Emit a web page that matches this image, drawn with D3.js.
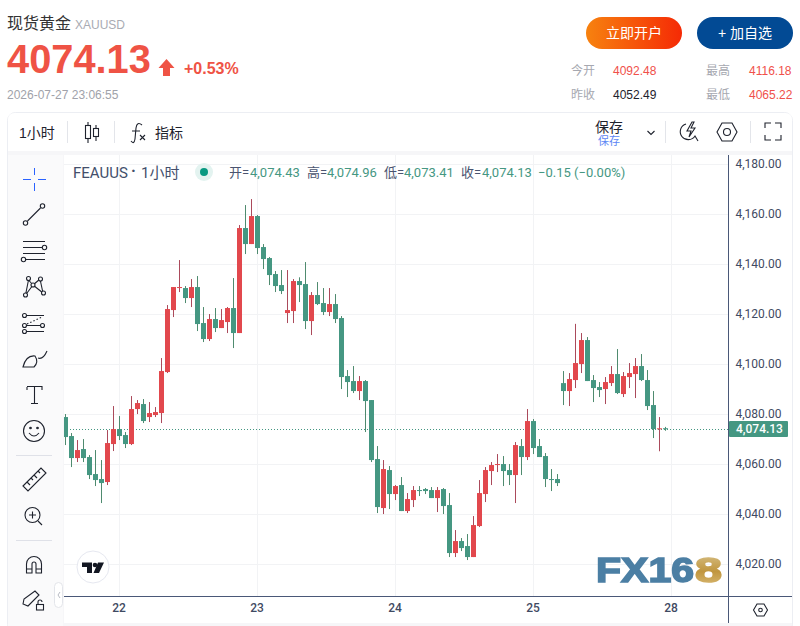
<!DOCTYPE html>
<html lang="zh">
<head>
<meta charset="utf-8">
<title>现货黄金 XAUUSD</title>
<script src="https://cdn.jsdelivr.net/npm/d3@7/dist/d3.min.js"></script>
<style>
  html, body { margin: 0; padding: 0; background: #fff; }
  svg { display: block; }
  text { font-family: "Liberation Sans", "Noto Sans CJK SC", sans-serif; }
  .tv text { font-family: Roboto, "Noto Sans CJK SC", sans-serif; }
  .icon { fill: none; stroke: #1e222d; stroke-width: 1.1; }
</style>
</head>
<body>
<svg id="chart" width="800" height="626"></svg>
<script>
// Hourly gold candles, oldest first.
const opens = [4078.9,4071.3,4062.5,4066.1,4062.9,4056.1,4054.1,4052.9,4068.1,4074.1,4071.7,4068.1,4082.1,4084.1,4078.9,4079.7,4080.5,4096.9,4121.7,4130.5,4130.5,4126.5,4130.9,4116.5,4110.1,4118.1,4114.5,4116.9,4122.5,4112.5,4154.5,4148.1,4159.3,4146.9,4142.5,4136.1,4131.7,4120.5,4121.3,4133.3,4132.1,4117.3,4127.7,4124.5,4120.9,4124.1,4118.5,4095.3,4093.3,4089.3,4093.3,4085.7,4062.1,4042.5,4057.7,4048.1,4051.7,4041.3,4045.7,4049.7,4050.1,4049.7,4046.5,4050.1,4043.7,4024.5,4029.3,4027.3,4022.9,4035.3,4048.1,4057.3,4059.7,4060.1,4057.7,4055.7,4067.3,4062.9,4077.3,4067.3,4063.3,4054.1,4054.1,4092.48,4089.3,4093.7,4100.1,4109.7,4093.7,4090.9,4090.1,4092.5,4096.1,4088.1,4094.9,4096.1,4099.3,4093.7,4083.7,4074.0,4074.43];
const closes = [4070.9,4062.5,4065.7,4062.5,4055.7,4053.7,4052.5,4068.5,4074.1,4071.3,4068.1,4082.1,4084.5,4077.3,4080.5,4080.9,4097.3,4122.1,4130.9,4130.9,4126.5,4130.9,4116.1,4110.1,4118.1,4114.5,4117.7,4122.5,4112.5,4154.5,4148.1,4159.3,4146.5,4142.1,4135.7,4131.3,4129.3,4121.7,4133.3,4131.7,4117.3,4127.7,4124.1,4120.9,4124.1,4118.1,4094.9,4092.9,4089.3,4093.3,4085.3,4061.7,4042.9,4058.1,4048.1,4051.3,4041.3,4046.1,4049.7,4049.3,4049.3,4046.5,4049.7,4043.3,4024.5,4029.3,4026.5,4022.9,4035.7,4048.5,4057.7,4059.7,4060.1,4057.3,4055.7,4067.7,4062.9,4077.3,4066.5,4062.9,4054.1,4053.7,4052.49,4089.3,4094.1,4100.5,4109.7,4093.3,4090.5,4089.7,4092.9,4096.1,4088.5,4095.3,4096.5,4099.3,4093.7,4083.3,4074.1,4074.4,4074.13];
const highs = [4080.1,4072.5,4069.7,4070.1,4063.7,4065.7,4061.7,4073.7,4083.3,4079.3,4072.9,4087.3,4085.7,4086.1,4084.9,4082.9,4102.5,4123.7,4130.9,4141.7,4131.3,4134.1,4135.3,4122.9,4120.1,4122.5,4122.1,4122.9,4134.5,4155.7,4163.7,4166.1,4159.7,4148.1,4142.9,4137.3,4137.7,4137.7,4134.1,4134.8,4140.9,4128.9,4132.9,4130.5,4130.5,4128.1,4119.3,4097.7,4099.3,4095.3,4093.7,4085.7,4067.3,4061.7,4059.3,4051.7,4054.9,4048.5,4051.3,4051.3,4050.5,4050.9,4050.9,4050.5,4048.5,4033.7,4030.5,4032.1,4039.3,4053.7,4058.9,4060.9,4064.1,4063.3,4060.1,4068.9,4070.1,4082.1,4078.1,4070.1,4064.5,4058.1,4056.1,4097.3,4096.5,4116.18,4112.5,4110.9,4095.7,4092.9,4094.9,4099.3,4106.1,4096.9,4100.5,4102.5,4104.1,4097.7,4089.3,4078.9,4074.96];
const lows = [4067.7,4058.9,4060.9,4060.9,4054.1,4051.3,4044.5,4051.7,4065.3,4069.7,4066.5,4067.7,4080.1,4076.5,4076.9,4078.9,4076.5,4096.5,4118.9,4128.9,4124.5,4122.9,4113.3,4108.9,4109.3,4112.9,4114.5,4112.5,4106.5,4112.5,4144.1,4148.1,4144.1,4138.1,4131.7,4128.9,4128.1,4116.5,4116.5,4124.9,4114.1,4111.7,4123.7,4119.7,4119.3,4116.5,4090.1,4086.9,4088.5,4085.7,4072.9,4060.9,4040.5,4040.1,4042.1,4045.7,4041.3,4040.5,4042.9,4047.3,4048.1,4046.5,4040.9,4040.1,4022.9,4022.9,4025.3,4021.7,4022.9,4034.9,4044.9,4051.7,4056.9,4051.3,4051.7,4044.5,4055.7,4061.7,4064.1,4062.9,4050.9,4049.3,4051.3,4083.7,4083.3,4090.5,4096.5,4093.3,4084.9,4086.9,4084.1,4091.3,4088.1,4086.9,4090.5,4086.5,4093.3,4081.7,4070.5,4065.22,4073.41];

// Axis content.
const priceTicks = [4020,4040,4060,4080,4100,4120,4140,4160,4180];
const dayBars = [9,32,55,78,101];
const dayLabels = ["22","23","24","25","28"];
const lastPrice = 4074.13;

// Quote panel content.
const quoteRows = [
  {label:"今开", value:"4092.48", x:571, vx:613, y:75, color:"#f0504a"},
  {label:"最高", value:"4116.18", x:706, vx:749, y:75, color:"#f0504a"},
  {label:"昨收", value:"4052.49", x:571, vx:613, y:99, color:"#1e222d"},
  {label:"最低", value:"4065.22", x:706, vx:749, y:99, color:"#f0504a"}
];
const legendParts = [
  {t:"开=", x:229, c:"#4a5470"}, {t:"4,074.43", x:250, c:"#459782"},
  {t:"高=", x:307, c:"#4a5470"}, {t:"4,074.96", x:327, c:"#459782"},
  {t:"低=", x:384, c:"#4a5470"}, {t:"4,073.41", x:404, c:"#459782"},
  {t:"收=", x:461, c:"#4a5470"}, {t:"4,074.13", x:482, c:"#459782"},
  {t:"−0.15 (−0.00%)", x:538, c:"#459782"}
];

const UP = "#e2484d", DOWN = "#459782", UP_WICK = "#ab4a5b", DOWN_WICK = "#4f8b6f";
const plot = {left:64, right:728.5, top:155, bottom:596};

const svg = d3.select("#chart");
const x = d3.scaleLinear().domain([0,100]).range([65.5,665.5]);
const y = d3.scaleLinear().domain([4020,4180]).range([564.3,164.3]);

const label = (sel, t, px, py, size, fill, extra={}) => {
  const n = sel.append("text").attr("x",px).attr("y",py).attr("font-size",size).attr("fill",fill).text(t);
  Object.entries(extra).forEach(([k,v]) => n.attr(k,v));
  return n;
};

/* ---------- page header ---------- */
const defs = svg.append("defs");
const btn = defs.append("linearGradient").attr("id","openBtn");
btn.append("stop").attr("offset",0).attr("stop-color","#f7820f");
btn.append("stop").attr("offset",1).attr("stop-color","#f52a05");
const gold = defs.append("linearGradient").attr("id","gold").attr("x1",0).attr("x2",0).attr("y1",0).attr("y2",1);
gold.append("stop").attr("offset",0).attr("stop-color","#d9c48e");
gold.append("stop").attr("offset",.55).attr("stop-color","#c0963f");
gold.append("stop").attr("offset",1).attr("stop-color","#dcbd7a");
defs.append("filter").attr("id","soft").append("feGaussianBlur").attr("stdDeviation",.5);
defs.append("clipPath").attr("id","plotClip").append("rect")
  .attr("x",plot.left).attr("y",plot.top).attr("width",plot.right-plot.left).attr("height",plot.bottom-plot.top);

label(svg,"现货黄金",7,29,16,"#333333");
label(svg,"XAUUSD",75,29,12,"#a9abb3");
label(svg,"4074.13",7,73,39.8,"#ef5345",{"font-weight":"bold"});
svg.append("path").attr("d","M166.5 59 L174.5 68 L170 68 L170 76 L163 76 L163 68 L158.5 68 Z").attr("fill","#ef5345");
label(svg,"+0.53%",184,74,16,"#ef5345",{"font-weight":"bold"});
label(svg,"2026-07-27 23:06:55",7,99,12,"#a0a2aa");

svg.append("rect").attr("x",586).attr("y",17).attr("width",96).attr("height",32).attr("rx",16).attr("fill","url(#openBtn)");
label(svg,"立即开户",634,38,14,"#fff",{"text-anchor":"middle"});
svg.append("rect").attr("x",697).attr("y",17).attr("width",96).attr("height",32).attr("rx",16).attr("fill","#024a94");
label(svg,"+ 加自选",745,38,14,"#fff",{"text-anchor":"middle"});

quoteRows.forEach(r => {
  label(svg,r.label,r.x,r.y,12,"#a6a8b0");
  label(svg,r.value,r.vx,r.y,12,r.color);
});

/* ---------- widget frame and toolbars ---------- */
svg.append("rect").attr("x",7.5).attr("y",112.5).attr("width",785).attr("height",520).attr("rx",8)
  .attr("fill","#f6f6f8").attr("stroke","#eceef3");
svg.append("path").attr("d","M8 151 V120 Q8 113 15 113 H785 Q792 113 792 120 V151 Z").attr("fill","#fff");
svg.append("rect").attr("x",8).attr("y",155).attr("width",55).attr("height",471).attr("fill","#fafafb");
svg.append("rect").attr("x",plot.left).attr("y",155).attr("width",728).attr("height",468).attr("fill","#fff");

[67.5,114.5,665.5,750.5].forEach(sx =>
  svg.append("line").attr("x1",sx).attr("x2",sx).attr("y1",121).attr("y2",143).attr("stroke","#e3e5ea"));

label(svg,"1小时",19,138,14,"#1e222d");
label(svg,"指标",155,138,14,"#1e222d");
label(svg,"保存",595,132,14,"#1e222d");
label(svg,"保存",598,145,11,"#5d86f5");

const icon = () => svg.append("g").attr("class","icon");

// candle type, indicators, save menu, alerts, settings, fullscreen
let g = icon();
g.append("path").attr("d","M88 122 V143 M96 125 V141");
g.append("rect").attr("x",85.5).attr("y",125.5).attr("width",5).attr("height",13).attr("fill","#fff");
g.append("rect").attr("x",93.5).attr("y",128.5).attr("width",5).attr("height",8).attr("fill","#fff");
g = icon();
g.append("path").attr("d","M142 125 Q137 121 136 128 L135 139 Q134 145 131 141 M132 131 H140 M140 135 L145 140 M145 135 L140 140");
g = icon();
g.append("path").attr("d","M647.5 131 L651 134.5 L654.5 131");
g = icon();
g.append("path").attr("d","M686 124 A8 8 0 1 0 695 136 L698 141 M692 122 L687 131 H691 L689 137 L695 128 H691 L694 122 Z");
g = icon();
g.append("path").attr("d","M717 132 L722 123 H732 L737 132 L732 141 H722 Z");
g.append("circle").attr("cx",727).attr("cy",132).attr("r",3.5);
g = icon();
g.append("path").attr("d","M765 128 V123 H771 M775 123 H781 V128 M781 135 V140 H775 M771 140 H765 V135");

// drawing tools along the left edge
const cross = svg.append("g").attr("stroke","#2962ff").attr("stroke-width",1).attr("fill","none");
cross.append("path").attr("d","M34.5 168 V175 M34.5 183 V191 M23 179.5 H31 M38 179.5 H46");
g = icon();
g.append("path").attr("d","M27.5 221 L40.5 208");
g.append("circle").attr("cx",25.5).attr("cy",223).attr("r",2.2);
g.append("circle").attr("cx",42.5).attr("cy",206).attr("r",2.2);
g = icon();
g.append("path").attr("d","M23 241.5 H45 M23 247.5 H42 M23 253.5 H45 M25 259.5 H45");
g.append("circle").attr("cx",44.5).attr("cy",247.5).attr("r",2.2);
g.append("circle").attr("cx",23.5).attr("cy",259.5).attr("r",2.2);
g = icon();
g.append("path").attr("d","M28.5 280 L25.5 295 M28.5 280 L33 285 M33 285 L40 279 M33 285 L43 293 M25.5 295 L33 285 M40 279 L43 293");
[[28.5,278.5],[40.5,279],[33,285],[25.5,295],[43.5,293]].forEach(([a,b]) => g.append("circle").attr("cx",a).attr("cy",b).attr("r",2).attr("fill","#fafafb"));
g = icon();
g.append("path").attr("d","M26 315.5 H44 M26 331.5 H44 M26 325.5 H40");
g.append("path").attr("d","M27 324 L42 317").attr("stroke-dasharray","1.5 2");
[[24.5,315.5],[24.5,325.5],[42.5,325.5],[24.5,331.5]].forEach(([a,b]) => g.append("circle").attr("cx",a).attr("cy",b).attr("r",2).attr("fill","#fafafb"));
g = icon();
g.append("path").attr("d","M23 367 Q26 355 35 356 Q39 362 34 367 Z M38 358 Q43 360 47 351");
g = icon();
g.append("path").attr("d","M27 387 V390 M27 386.5 H42 V390 M34.5 387 V403 M31 403.5 H38");
g = icon();
g.append("circle").attr("cx",34).attr("cy",431).attr("r",10.5);
g.append("path").attr("d","M29 433 Q34 439 39 433");
g.append("circle").attr("cx",30.5).attr("cy",428).attr("r",.8).attr("fill","#1e222d");
g.append("circle").attr("cx",37.5).attr("cy",428).attr("r",.8).attr("fill","#1e222d");
[455.5,540.5].forEach(sy =>
  svg.append("line").attr("x1",16).attr("x2",52).attr("y1",sy).attr("y2",sy).attr("stroke","#dfe1e8"));
g = icon();
g.append("path").attr("d","M23 486 L41 468 L46 473 L28 491 Z M27 482 L30 485 M31 478 L33 480 M34 475 L37 478 M38 471 L40 473");
g = icon();
g.append("circle").attr("cx",32.5).attr("cy",515).attr("r",7.5);
g.append("path").attr("d","M38 521 L42 525 M29 515 H36 M32.5 511.5 V518.5");
g = icon();
g.append("path").attr("d","M26.5 573 V564 A7.5 7.5 0 0 1 41.5 564 V573 H36 V564 A2 2 0 0 0 32 564 V573 Z M26.5 569 H32 M36 569 H41.5");
g = icon();
g.append("path").attr("d","M23 604 L24 599 L35 591 L39 595 L28 606 Z");
g.append("rect").attr("x",36.5).attr("y",604.5).attr("width",7).attr("height",5.5);
g.append("path").attr("d","M38 604 V602 A2 2 0 0 1 42 602");
svg.append("rect").attr("x",54.5).attr("y",582.5).attr("width",8).attr("height",25).attr("rx",4).attr("fill","#fff").attr("stroke","#e3e5ea");
svg.append("path").attr("d","M60 592 L58 595 L60 598").attr("fill","none").attr("stroke","#b8bbc4");

/* ---------- price chart ---------- */
const tv = svg.append("g").attr("class","tv");

// grid
const gridY = tv.append("g").attr("stroke","#f2f3f5");
gridY.selectAll("line").data(priceTicks).join("line")
  .attr("x1",plot.left).attr("x2",plot.right)
  .attr("y1",d => Math.round(y(d))+.5).attr("y2",d => Math.round(y(d))+.5);
const gridX = tv.append("g").attr("stroke","#f2f3f5");
gridX.selectAll("line").data(dayBars).join("line")
  .attr("x1",d => Math.floor(x(d))+.5).attr("x2",d => Math.floor(x(d))+.5)
  .attr("y1",plot.top).attr("y2",plot.bottom);

// watermark sits under the candles
const mark = tv.append("g").attr("font-weight","bold").attr("font-size",35).attr("filter","url(#soft)");
mark.append("text").attr("x",596).attr("y",582).attr("textLength",98).attr("lengthAdjust","spacingAndGlyphs")
  .attr("fill","#4c7fa4").attr("stroke","#4c7fa4").attr("stroke-width",1.6)
  .attr("style","font-family:'Liberation Sans'").text("FX16");
mark.append("text").attr("x",695).attr("y",582).attr("textLength",27).attr("lengthAdjust","spacingAndGlyphs")
  .attr("fill","url(#gold)").attr("stroke","url(#gold)").attr("stroke-width",1.6)
  .attr("style","font-family:'Liberation Sans'").text("8");

// last-price marker line
tv.append("line").attr("x1",plot.left).attr("x2",plot.right)
  .attr("y1",Math.round(y(lastPrice))+.5).attr("y2",Math.round(y(lastPrice))+.5)
  .attr("stroke",DOWN).attr("stroke-dasharray","1 2");

// candles
const bars = d3.range(opens.length).map(i => ({i, o:opens[i], h:highs[i], l:lows[i], c:closes[i]}));
const candles = tv.append("g").attr("clip-path","url(#plotClip)");
candles.selectAll("line").data(bars).join("line")
  .attr("x1",d => x(d.i)).attr("x2",d => x(d.i))
  .attr("y1",d => y(d.h)).attr("y2",d => y(d.l))
  .attr("stroke",d => d.c >= d.o ? UP_WICK : DOWN_WICK);
candles.selectAll("rect").data(bars).join("rect")
  .attr("x",d => x(d.i)-2.5).attr("width",5)
  .attr("y",d => y(Math.max(d.o,d.c)))
  .attr("height",d => Math.max(1, Math.abs(y(d.o)-y(d.c))))
  .attr("fill",d => d.c >= d.o ? UP : DOWN);

// right-hand price axis
const yAxis = tv.append("g").attr("transform",`translate(${plot.right},-1)`)
  .call(d3.axisRight(y).tickValues(priceTicks).tickSize(0).tickPadding(7).tickFormat(d3.format(",.2f")));
yAxis.select(".domain").remove();
yAxis.selectAll("text").attr("font-size",12).attr("fill","#3f4a62").attr("style","font-family:Roboto");

// bottom day axis
const xAxis = tv.append("g").attr("transform",`translate(-1,${plot.bottom})`)
  .call(d3.axisBottom(x).tickValues(dayBars).tickSize(0).tickPadding(7)
    .tickFormat((d,i) => dayLabels[i]));
xAxis.select(".domain").remove();
xAxis.selectAll("text").attr("font-size",12).attr("font-weight",500).attr("fill","#3f4a62").attr("style","font-family:Roboto");

tv.append("line").attr("x1",plot.left).attr("x2",792).attr("y1",plot.bottom+.5).attr("y2",plot.bottom+.5).attr("stroke","#4a5878");
tv.append("line").attr("x1",plot.right).attr("x2",plot.right).attr("y1",plot.top).attr("y2",623).attr("stroke","#4a5878");

// last-price tag
tv.append("rect").attr("x",plot.right+.5).attr("y",y(lastPrice)-8).attr("width",59).attr("height",16).attr("rx",1).attr("fill",DOWN);
tv.append("text").attr("x",736).attr("y",y(lastPrice)+4.5).attr("font-size",12).attr("font-weight",500)
  .attr("fill","#fff").attr("style","font-family:Roboto").text(d3.format(",.2f")(lastPrice));

// axis settings glyph
g = icon().attr("stroke","#3f4a62");
g.append("path").attr("d","M753.5 610 L757 604 H764 L767.5 610 L764 616 H757 Z");
g.append("circle").attr("cx",760.5).attr("cy",610).attr("r",1.8);

// symbol legend
label(tv,"FEAUUS",73,178,15,"#434f6b",{style:"font-family:Roboto"});
label(tv,"·",131,176,16,"#434f6b",{"font-weight":"bold"});
label(tv,"1小时",141,178,15,"#434f6b",{style:"font-family:Roboto,'Noto Sans CJK SC'"});
tv.append("circle").attr("cx",204).attr("cy",172).attr("r",9).attr("fill","#e3f3f0");
tv.append("circle").attr("cx",204).attr("cy",172).attr("r",4).attr("fill","#089981");
tv.selectAll("text.leg").data(legendParts).join("text").attr("class","leg")
  .attr("x",d => d.x).attr("y",177).attr("font-size",13).attr("fill",d => d.c)
  .attr("style","font-family:Roboto,'Noto Sans CJK SC'").text(d => d.t);

// branding badge
const badge = tv.append("g");
badge.append("circle").attr("cx",93).attr("cy",567).attr("r",16).attr("fill","#fff").attr("stroke","#e6e8f0");
badge.append("path").attr("fill","#131722")
  .attr("d","M82 562.5 H92 V573 H87 V567 H82 Z M98 562.5 H104 L99 573 H93.5 Z");
badge.append("circle").attr("cx",95).attr("cy",565).attr("r",2.3).attr("fill","#131722");
</script>
</body>
</html>
